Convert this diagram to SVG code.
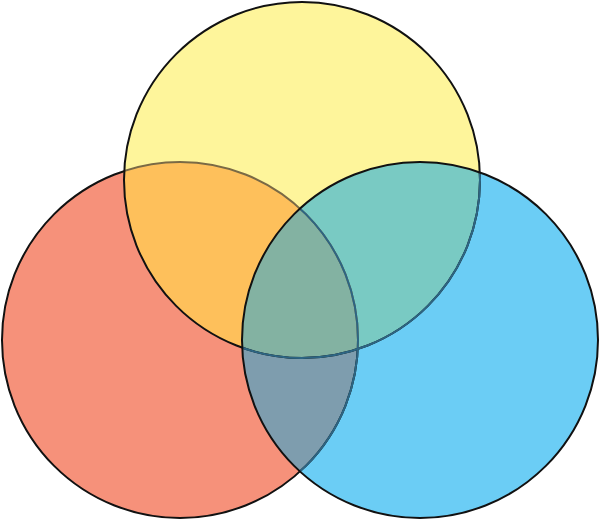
<svg xmlns="http://www.w3.org/2000/svg" width="600" height="521" viewBox="0 0 600 521">
<defs>
<clipPath id="cR"><circle cx="180" cy="340" r="178"/></clipPath>
<clipPath id="cY"><circle cx="302" cy="180" r="178"/></clipPath>
<clipPath id="cB"><circle cx="420" cy="340" r="178"/></clipPath>
<style>
.s{fill:none;stroke:#111;stroke-width:2}
.dimY{fill:none;stroke:#7a6a45;stroke-width:2}
.dimB{fill:none;stroke:#2d6583;stroke-width:2}
</style>
</defs>
<rect width="600" height="521" fill="#ffffff"/>
<g id="red">
<circle cx="180" cy="340" r="178" fill="#F6917A"/>
</g>
<g id="yellow">
<circle cx="302" cy="180" r="178" fill="#FEF59B"/>
<circle cx="302" cy="180" r="178" fill="#FEC05B" clip-path="url(#cR)"/>
</g>
<g id="blue">
<circle cx="420" cy="340" r="178" fill="#6BCDF5"/>
<g clip-path="url(#cB)">
<circle cx="302" cy="180" r="178" fill="#79CAC3"/>
<circle cx="180" cy="340" r="178" fill="#7E9DAE"/>
<g clip-path="url(#cY)"><circle cx="180" cy="340" r="178" fill="#83B2A2"/></g>
</g>
</g>
<g id="outlines">
<g clip-path="url(#cY)"><circle class="dimY" cx="180" cy="340" r="178"/></g>
<circle class="s" cx="180" cy="340" r="178" clip-path="url(#outY)"/>
<circle class="s" cx="302" cy="180" r="178"/>
<g clip-path="url(#cB)">
<circle class="dimB" cx="180" cy="340" r="178"/>
<circle class="dimB" cx="302" cy="180" r="178"/>
</g>
<circle class="s" cx="420" cy="340" r="178"/>
</g>
<defs>
<clipPath id="outY"><path fill-rule="evenodd" d="M0 0H600V521H0Z M124 180a178 178 0 1 0 356 0a178 178 0 1 0 -356 0Z"/></clipPath>
</defs>
<g id="connectors"/>
</svg>
